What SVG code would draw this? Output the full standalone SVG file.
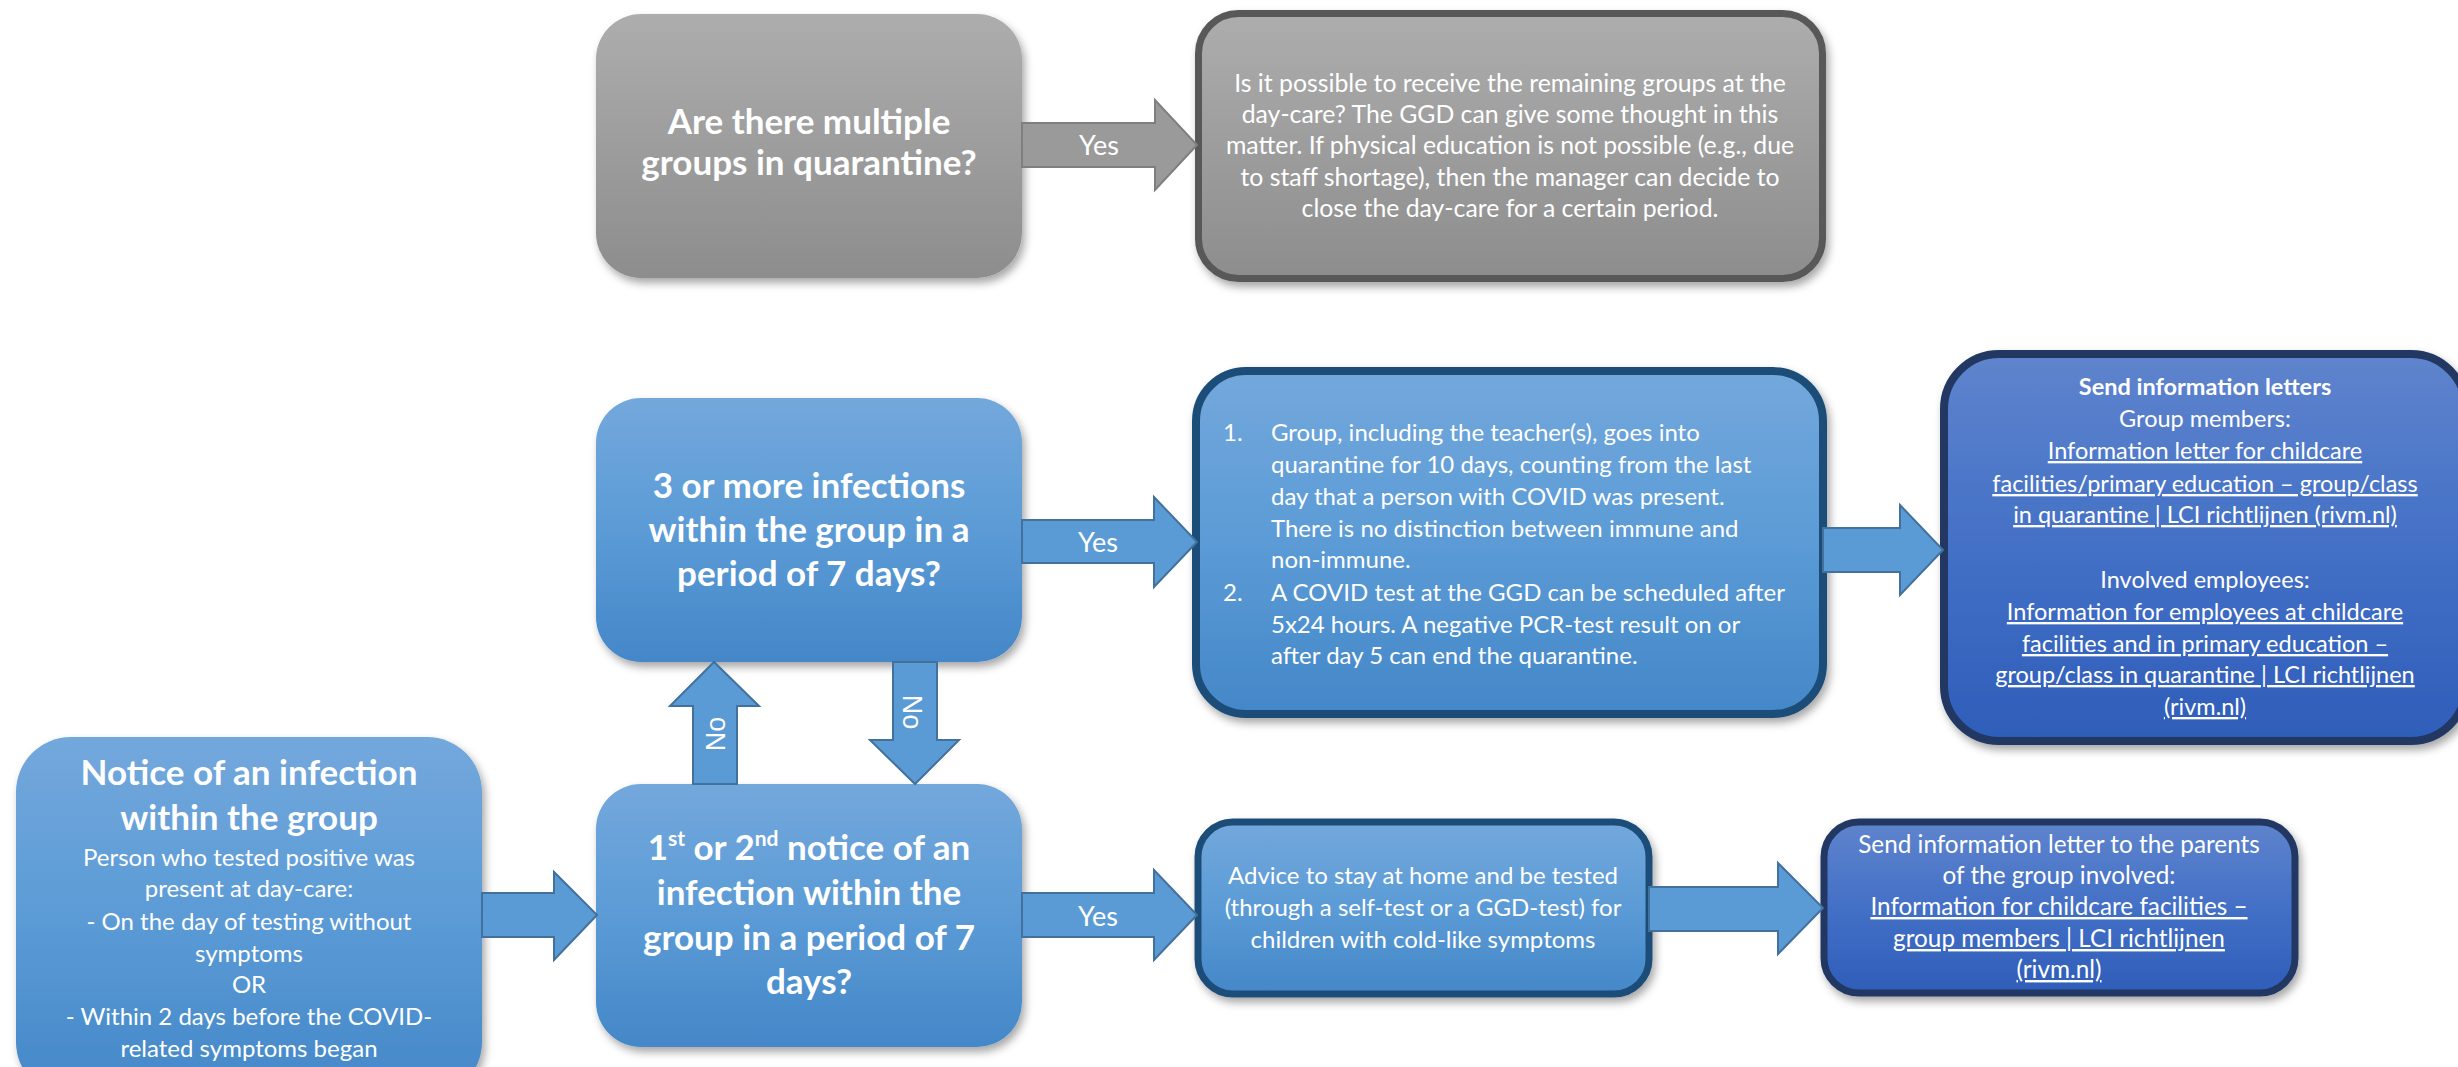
<svg xmlns="http://www.w3.org/2000/svg" width="2458" height="1067" viewBox="0 0 2458 1067">
<defs>
<style>
text{font-family:Lato,"Liberation Sans",sans-serif;fill:#fff;}
.q{font-weight:bold;font-size:35px;text-anchor:middle;}
.t{font-size:24px;text-anchor:middle;}
.g2{font-size:24.8px;text-anchor:middle;}
.qt{font-size:24px;}
.sd{font-size:23.5px;text-anchor:middle;}
.sp{font-size:24.3px;text-anchor:middle;}
.u{text-decoration:underline;}
.yes{font-size:27px;text-anchor:middle;}
.no{font-family:"Liberation Sans",Arial,sans-serif;font-size:27px;text-anchor:middle;}
.arrow{fill:#5b9bd5;stroke:#41719c;stroke-width:2;}
.garrow{fill:#9a9a9a;stroke:#7f7f7f;stroke-width:2;}
</style>
<linearGradient id="gGray" x1="0" y1="0" x2="0" y2="1"><stop offset="0" stop-color="#adadad"/><stop offset="1" stop-color="#8d8d8d"/></linearGradient>
<linearGradient id="gBlue" x1="0" y1="0" x2="0" y2="1"><stop offset="0" stop-color="#73a8dc"/><stop offset="0.5" stop-color="#5b9bd6"/><stop offset="1" stop-color="#4487c8"/></linearGradient>
<linearGradient id="gDark" x1="0" y1="0" x2="0" y2="1"><stop offset="0" stop-color="#5f84cd"/><stop offset="0.5" stop-color="#4370c6"/><stop offset="1" stop-color="#2e5db9"/></linearGradient>
<filter id="sh" x="-10%" y="-10%" width="130%" height="130%"><feDropShadow dx="3" dy="5" stdDeviation="4" flood-color="#000" flood-opacity="0.35"/></filter>
</defs>
<rect width="2458" height="1067" fill="#fff"/>

<g id="multiple-groups">
<rect x="596" y="14" width="426" height="264" rx="45" fill="url(#gGray)" filter="url(#sh)"/>
<text class="q" x="809" y="134">Are there multiple</text>
<text class="q" x="809" y="175">groups in quarantine?</text>
</g>

<g id="remaining-groups">
<rect x="1198.5" y="13.5" width="624" height="265" rx="40" fill="url(#gGray)" stroke="#595959" stroke-width="7" filter="url(#sh)"/>
<text class="g2" x="1510" y="92">Is it possible to receive the remaining groups at the</text>
<text class="g2" x="1510" y="123">day-care? The GGD can give some thought in this</text>
<text class="g2" x="1510" y="154">matter. If physical education is not possible (e.g., due</text>
<text class="g2" x="1510" y="186">to staff shortage), then the manager can decide to</text>
<text class="g2" x="1510" y="217">close the day-care for a certain period.</text>
</g>

<g id="three-or-more">
<rect x="596" y="398" width="426" height="264" rx="45" fill="url(#gBlue)" filter="url(#sh)"/>
<text class="q" x="809" y="498">3 or more infections</text>
<text class="q" x="809" y="542">within the group in a</text>
<text class="q" x="809" y="586">period of 7 days?</text>
</g>

<g id="quarantine">
<rect x="1196" y="371" width="627" height="343" rx="50" fill="url(#gBlue)" stroke="#1f4e79" stroke-width="8" filter="url(#sh)"/>
<text class="qt" x="1223" y="441">1.</text>
<text class="qt" x="1271" y="441">Group, including the teacher(s), goes into</text>
<text class="qt" x="1271" y="473">quarantine for 10 days, counting from the last</text>
<text class="qt" x="1271" y="505">day that a person with COVID was present.</text>
<text class="qt" x="1271" y="537">There is no distinction between immune and</text>
<text class="qt" x="1271" y="568">non-immune.</text>
<text class="qt" x="1223" y="601">2.</text>
<text class="qt" x="1271" y="601">A COVID test at the GGD can be scheduled after</text>
<text class="qt" x="1271" y="633">5x24 hours. A negative PCR-test result on or</text>
<text class="qt" x="1271" y="664">after day 5 can end the quarantine.</text>
</g>

<g id="send-letters">
<rect x="1944" y="354" width="522" height="387" rx="55" fill="url(#gDark)" stroke="#203864" stroke-width="8" filter="url(#sh)"/>
<text class="sd" x="2205" y="395" font-weight="bold" font-size="26.5">Send information letters</text>
<text class="sd" x="2205" y="427">Group members:</text>
<text class="sd u" x="2205" y="459">Information letter for childcare</text>
<text class="sd u" x="2205" y="492">facilities/primary education – group/class</text>
<text class="sd u" x="2205" y="523">in quarantine | LCI richtlijnen (rivm.nl)</text>
<text class="sd" x="2205" y="588">Involved employees:</text>
<text class="sd u" x="2205" y="620">Information for employees at childcare</text>
<text class="sd u" x="2205" y="652">facilities and in primary education –</text>
<text class="sd u" x="2205" y="683">group/class in quarantine | LCI richtlijnen</text>
<text class="sd u" x="2205" y="715">(rivm.nl)</text>
</g>

<g id="notice">
<rect x="16" y="737" width="466" height="360" rx="55" fill="url(#gBlue)" filter="url(#sh)"/>
<text class="q" x="249" y="785" font-size="36.5">Notice of an infection</text>
<text class="q" x="249" y="830" font-size="36.5">within the group</text>
<text class="t" x="249" y="866">Person who tested positive was</text>
<text class="t" x="249" y="897">present at day-care:</text>
<text class="t" x="249" y="930">- On the day of testing without</text>
<text class="t" x="249" y="962">symptoms</text>
<text class="t" x="249" y="993">OR</text>
<text class="t" x="249" y="1025">- Within 2 days before the COVID-</text>
<text class="t" x="249" y="1057">related symptoms began</text>
</g>

<g id="first-second">
<rect x="596" y="784" width="426" height="263" rx="45" fill="url(#gBlue)" filter="url(#sh)"/>
<text class="q" x="809" y="860">1<tspan font-size="21" dy="-14">st</tspan><tspan dy="14"> or 2</tspan><tspan font-size="21" dy="-14">nd</tspan><tspan dy="14"> notice of an</tspan></text>
<text class="q" x="809" y="905">infection within the</text>
<text class="q" x="809" y="950">group in a period of 7</text>
<text class="q" x="809" y="994">days?</text>
</g>

<g id="advice">
<rect x="1198" y="822" width="451" height="172" rx="35" fill="url(#gBlue)" stroke="#1f4e79" stroke-width="7" filter="url(#sh)"/>
<text class="t" x="1423" y="884">Advice to stay at home and be tested</text>
<text class="t" x="1423" y="916">(through a self-test or a GGD-test) for</text>
<text class="t" x="1423" y="948">children with cold-like symptoms</text>
</g>

<g id="parents-letter">
<rect x="1824" y="822" width="471" height="171" rx="35" fill="url(#gDark)" stroke="#203864" stroke-width="7" filter="url(#sh)"/>
<text class="sp" x="2059" y="853">Send information letter to the parents</text>
<text class="sp" x="2059" y="884">of the group involved:</text>
<text class="sp u" x="2059" y="915">Information for childcare facilities –</text>
<text class="sp u" x="2059" y="947">group members | LCI richtlijnen</text>
<text class="sp u" x="2059" y="978">(rivm.nl)</text>
</g>

<g id="connectors">
<path class="garrow" d="M1022,123 L1155,123 L1155,100 L1197,145 L1155,190 L1155,167 L1022,167 Z"/>
<text class="yes" x="1099" y="155">Yes</text>
<path class="arrow" d="M1022,520 L1154,520 L1154,497 L1197,542 L1154,587 L1154,563 L1022,563 Z"/>
<text class="yes" x="1098" y="552">Yes</text>
<path class="arrow" d="M693,784 L693,706 L670,706 L714,662 L759,706 L737,706 L737,784 Z"/>
<text class="no" transform="translate(725,734) rotate(-90)">No</text>
<path class="arrow" d="M893,662 L937,662 L937,740 L959,740 L915,784 L870,740 L893,740 Z"/>
<text class="no" transform="translate(903,712) rotate(90)">No</text>
<path class="arrow" d="M1022,893 L1154,893 L1154,870 L1197,915 L1154,960 L1154,937 L1022,937 Z"/>
<text class="yes" x="1098" y="926">Yes</text>
<path class="arrow" d="M482,893 L554,893 L554,872 L597,915 L554,960 L554,937 L482,937 Z"/>
<path class="arrow" d="M1823,528 L1900,528 L1900,505 L1943,550 L1900,595 L1900,572 L1823,572 Z"/>
<path class="arrow" d="M1649,887 L1778,887 L1778,863 L1823,908 L1778,954 L1778,931 L1649,931 Z"/>
</g>
</svg>
